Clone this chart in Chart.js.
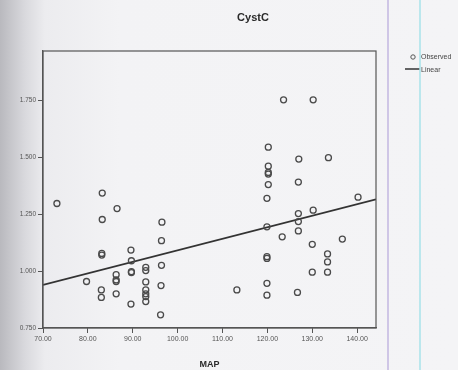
<!DOCTYPE html>
<html>
<head>
<meta charset="utf-8">
<script src="https://cdn.jsdelivr.net/npm/chart.js@4"></script>
<style>
  html, body { margin: 0; padding: 0; }
  body {
    width: 458px; height: 370px; overflow: hidden;
    background: linear-gradient(to right, #b9b9be 0px, #d9d9dd 25px, #ececef 45px, #f3f3f5 120px, #f4f4f6 100%);
  }
  #wrap { position: relative; width: 458px; height: 370px; }
</style>
</head>
<body>
<div id="wrap"><canvas id="grafico" width="458" height="370"></canvas></div>
<script>
// MAP (x) vs CystC (y)
const mapVals = [
  73.1, 83.2, 86.5, 83.2, 96.5, 96.4, 83.1, 83.1, 89.6, 89.7,
  89.7, 89.7, 92.9, 92.9, 96.4, 86.3, 86.3, 86.3, 79.7, 92.9,
  92.9, 92.9, 92.9, 92.9, 83.0, 83.0, 86.3, 96.3, 89.6, 96.2,
  113.2, 119.9, 119.9, 119.9, 119.9, 119.9, 119.9, 120.2, 120.2, 120.2,
  120.2, 120.2, 123.6, 130.2, 127.0, 133.6, 126.9, 140.2, 130.2, 126.9,
  126.9, 126.9, 123.3, 136.7, 130.0, 133.4, 133.4, 133.4, 130.0, 126.7
];
const cystcVals = [
  1.296, 1.342, 1.274, 1.226, 1.214, 1.133, 1.077, 1.070, 1.092, 1.045,
  0.997, 0.993, 1.016, 1.002, 1.025, 0.984, 0.961, 0.954, 0.954, 0.952,
  0.917, 0.900, 0.888, 0.866, 0.917, 0.884, 0.900, 0.936, 0.855, 0.808,
  0.917, 0.894, 0.946, 1.063, 1.055, 1.194, 1.319, 1.379, 1.425, 1.432,
  1.460, 1.543, 1.751, 1.751, 1.491, 1.497, 1.390, 1.324, 1.267, 1.252,
  1.217, 1.176, 1.150, 1.140, 1.117, 1.075, 1.040, 0.995, 0.995, 0.906
];
// linear fit line, end points
const fitX = [70, 144.2];
const fitY = [0.939, 1.314];

const xTicks = [70, 80, 90, 100, 110, 120, 130, 140];
const yTicks = [0.75, 1.0, 1.25, 1.5, 1.75];

const pontos = mapVals.map((v, i) => ({ x: v, y: cystcVals[i] }));
const linha = fitX.map((v, i) => ({ x: v, y: fitY[i] }));

// desenho extra: moldura, titulo, legenda, linhas do scan
const extras = {
  id: 'extras',
  afterDraw(chart) {
    const c = chart.ctx;
    const a = chart.chartArea;
    c.save();
    c.strokeStyle = '#555';
    c.lineWidth = 1.2;
    c.strokeRect(a.left, a.top, a.right - a.left, a.bottom - a.top);

    c.fillStyle = '#2a2a2a';
    c.font = 'bold 11px "Liberation Sans", Arial, sans-serif';
    c.textAlign = 'center';
    c.textBaseline = 'middle';
    c.fillText('CystC', 253, 18);

    // legenda
    c.font = '7px "Liberation Sans", Arial, sans-serif';
    c.textAlign = 'left';
    c.strokeStyle = '#555';
    c.lineWidth = 1;
    c.beginPath();
    c.arc(413, 57, 2.2, 0, Math.PI * 2);
    c.stroke();
    c.fillStyle = '#444';
    c.fillText('Observed', 421, 57);
    c.strokeStyle = '#333';
    c.lineWidth = 1.5;
    c.beginPath();
    c.moveTo(405, 69);
    c.lineTo(420, 69);
    c.stroke();
    c.fillText('Linear', 421, 70);

    // linhas verticais da foto
    c.strokeStyle = '#cfc6e6';
    c.lineWidth = 2;
    c.beginPath(); c.moveTo(388, 0); c.lineTo(388, 370); c.stroke();
    c.strokeStyle = '#a9e3ea';
    c.lineWidth = 1.5;
    c.beginPath(); c.moveTo(420, 0); c.lineTo(420, 370); c.stroke();
    c.restore();
  }
};

let chart;

function criarGrafico() {
  const ctx = document.getElementById('grafico').getContext('2d');

  chart = new Chart(ctx, {
    type: 'scatter',
    data: {
      datasets: [
        {
          label: 'Observed',
          data: pontos,
          pointStyle: 'circle',
          pointRadius: 3,
          pointBorderWidth: 1.3,
          borderColor: '#4a4a4a',
          backgroundColor: 'rgba(0,0,0,0)'
        },
        {
          label: 'Linear',
          type: 'line',
          data: linha,
          borderColor: '#333',
          borderWidth: 1.8,
          pointRadius: 0,
          fill: false
        }
      ]
    },
    options: {
      responsive: false,
      animation: false,
      layout: { padding: { left: 0, right: 82, top: 51, bottom: 0 } },
      plugins: {
        legend: { display: false },
        tooltip: { enabled: false }
      },
      scales: {
        x: {
          type: 'linear',
          min: 70,
          max: 144.2,
          afterBuildTicks: (s) => { s.ticks = xTicks.map(v => ({ value: v })); },
          afterFit: (s) => { s.height = 42; },
          border: { color: '#555', width: 1.2 },
          grid: { drawOnChartArea: false, drawTicks: true, tickLength: 5, color: '#555' },
          ticks: {
            color: '#555',
            font: { size: 7, family: '"Liberation Sans", Arial, sans-serif' },
            padding: 2,
            maxRotation: 0,
            callback: (v) => Number(v).toFixed(2)
          },
          title: {
            display: true,
            text: 'MAP',
            color: '#2a2a2a',
            font: { size: 9, weight: 'bold', family: '"Liberation Sans", Arial, sans-serif' },
            padding: { top: 3, bottom: 0 }
          }
        },
        y: {
          min: 0.75,
          max: 1.965,
          afterBuildTicks: (s) => { s.ticks = yTicks.map(v => ({ value: v })); },
          afterFit: (s) => { s.width = 43; },
          border: { color: '#555', width: 1.2 },
          grid: { drawOnChartArea: false, drawTicks: true, tickLength: 5, color: '#555' },
          ticks: {
            color: '#555',
            font: { size: 6.5, family: '"Liberation Sans", Arial, sans-serif' },
            padding: 2,
            callback: (v) => Number(v).toFixed(3)
          }
        }
      }
    },
    plugins: [extras]
  });
}

window.onload = function () {
  criarGrafico();
};
</script>
</body>
</html>
